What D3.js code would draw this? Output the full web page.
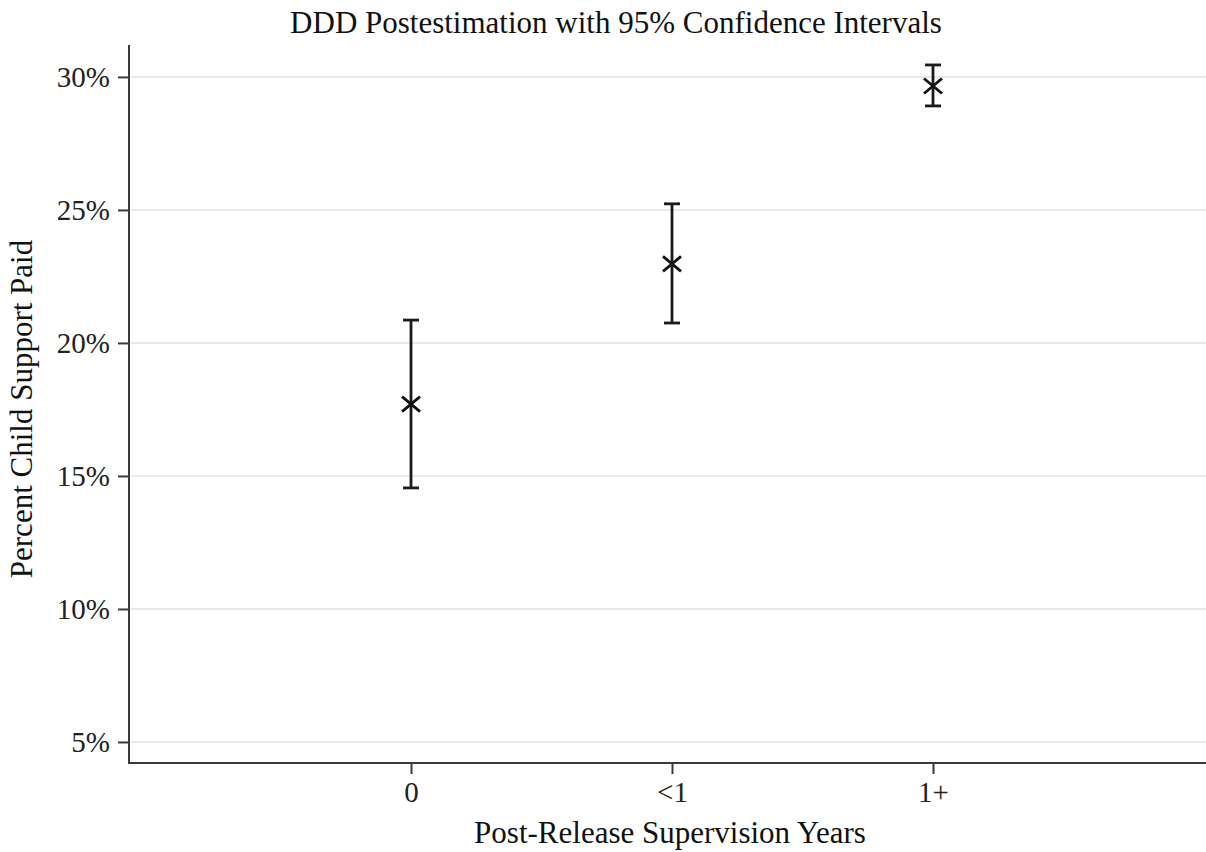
<!DOCTYPE html>
<html><head><meta charset="utf-8">
<script src="https://cdn.jsdelivr.net/npm/d3@7"></script>
<style>body{margin:0;background:#fff}svg{display:block}</style>
</head><body>
<script>
const categories = ["0", "<1", "1+"];
const estimates = [17.7, 22.97, 29.66];
const ciLower = [14.55, 20.75, 28.91];
const ciUpper = [20.86, 25.23, 30.45];
const yTicks = [5, 10, 15, 20, 25, 30];

const W = 1206, H = 852;
const svg = d3.select("body").append("svg").attr("width", W).attr("height", H);
const font = "'Liberation Serif', 'Times New Roman', serif";
const x = d3.scaleLinear().domain([-0.0843, 4.046]).range([128, 1206]);
const y = d3.scaleLinear().domain([4.21, 31.2]).range([763, 45]);
const axisColor = "#3a3a3a";

// title
svg.append("text").attr("x", 616).attr("y", 33).attr("text-anchor", "middle")
  .style("font-family", font).style("font-size", "31px").attr("fill", "#111")
  .text("DDD Postestimation with 95% Confidence Intervals");

// gridlines
svg.append("g").selectAll("line").data(yTicks).join("line")
  .attr("x1", 131).attr("x2", W).attr("y1", d => y(d)).attr("y2", d => y(d))
  .attr("stroke", "#e3eced").attr("stroke-width", 2);

// y axis
const yAxis = d3.axisLeft(y).tickValues(yTicks).tickFormat(d => d + "%").tickSize(11).tickPadding(8);
const gy = svg.append("g").attr("transform", "translate(129,0)").call(yAxis);
gy.select(".domain").attr("d", `M0,${y(31.2)}V${y(4.21)}`).attr("stroke", axisColor).attr("stroke-width", 2);
gy.selectAll(".tick line").attr("stroke", axisColor).attr("stroke-width", 2);
gy.selectAll(".tick text").style("font-family", font).style("font-size", "29px").attr("fill", "#222");

// x axis
const catX = categories.map((c, i) => i + 1);
const xAxis = d3.axisBottom(x).tickValues(catX).tickFormat((d, i) => categories[i]).tickSize(11).tickPadding(7);
const gx = svg.append("g").attr("transform", "translate(0,763)").call(xAxis);
gx.select(".domain").attr("d", `M128,0H${W}`).attr("stroke", axisColor).attr("stroke-width", 2);
gx.selectAll(".tick line").attr("stroke", axisColor).attr("stroke-width", 2);
gx.selectAll(".tick text").style("font-family", font).style("font-size", "29px").attr("fill", "#222");

// axis titles
svg.append("text").attr("x", 670).attr("y", 843).attr("text-anchor", "middle")
  .style("font-family", font).style("font-size", "31px").attr("fill", "#111")
  .text("Post-Release Supervision Years");
svg.append("text").attr("transform", "translate(32,409) rotate(-90)").attr("text-anchor", "middle")
  .style("font-family", font).style("font-size", "31px").attr("fill", "#111")
  .text("Percent Child Support Paid");

// error bars
const data = categories.map((c, i) => ({c, xv: i + 1, est: estimates[i], lo: ciLower[i], hi: ciUpper[i]}));
const g = svg.append("g").attr("stroke", "#1a1a1a").attr("stroke-width", 2.8).attr("fill", "none");
const cap = 8;
data.forEach(d => {
  const cx = x(d.xv);
  g.append("line").attr("x1", cx).attr("x2", cx).attr("y1", y(d.hi)).attr("y2", y(d.lo));
  g.append("line").attr("x1", cx - cap).attr("x2", cx + cap).attr("y1", y(d.hi)).attr("y2", y(d.hi));
  g.append("line").attr("x1", cx - cap).attr("x2", cx + cap).attr("y1", y(d.lo)).attr("y2", y(d.lo));
  const sx = 9, sy = 7.5, cy = y(d.est);
  g.append("path").attr("d", `M${cx - sx},${cy - sy}L${cx + sx},${cy + sy}M${cx - sx},${cy + sy}L${cx + sx},${cy - sy}`)
    .attr("stroke", "#111").attr("stroke-width", 2.8);
});
</script>
</body></html>
